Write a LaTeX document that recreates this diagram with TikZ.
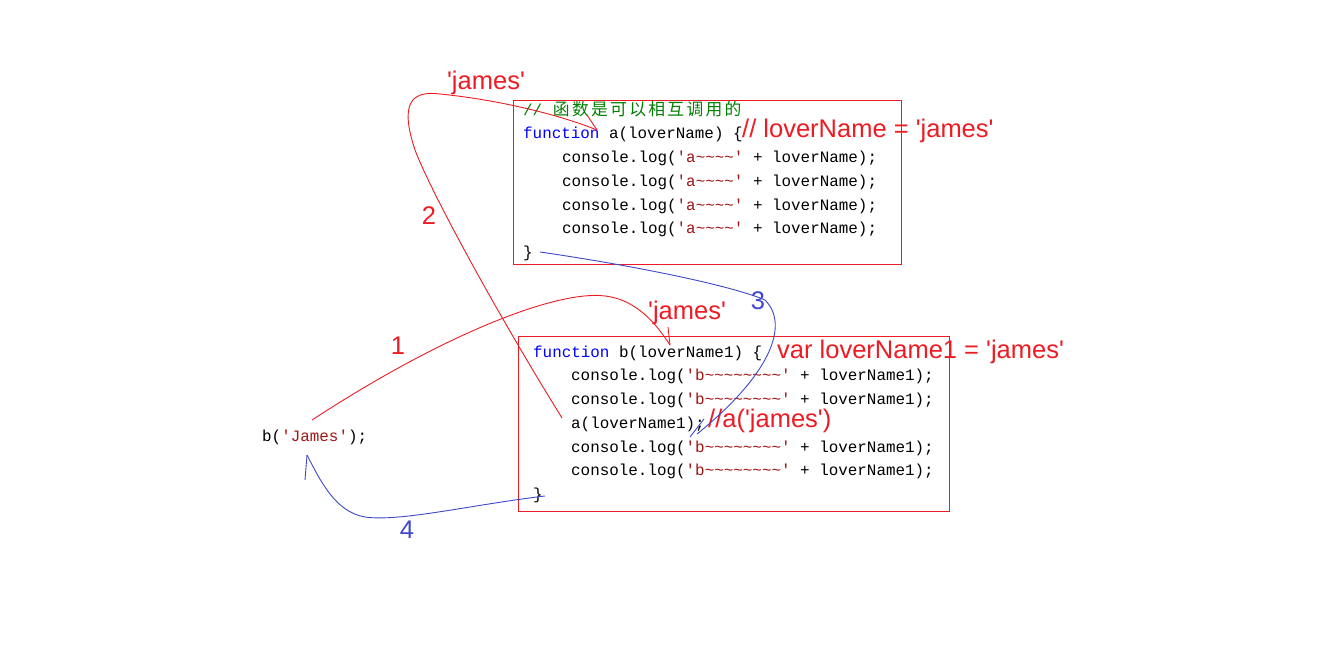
\documentclass[tikz,border=0pt]{standalone}
\usepackage{fontspec}
\setmonofont{Liberation Mono}
\newfontfamily\annfont{Liberation Sans}[Ligatures=TeXOff]
\newfontfamily\cjkfont{Noto Sans CJK SC}
\definecolor{kw}{HTML}{0000FF}
\definecolor{str}{HTML}{A31515}
\definecolor{cmt}{HTML}{008000}
\definecolor{penred}{HTML}{ED1C24}
\definecolor{penblue}{HTML}{3F48CC}
\newcommand\cjb[1]{\makebox[19.08pt]{\cjkfont\fontsize{16.8}{18}\selectfont #1}}
\newcommand\tl{\string~}
\tikzset{
  code/.style={anchor=west, inner sep=0pt, font=\ttfamily\fontsize{15.9}{19}\selectfont, text height=12pt, text depth=4pt},
  ann/.style={inner sep=0pt, text=penred, font=\annfont\fontsize{25.5}{30}\selectfont},
  annb/.style={ann, text=penblue},
  codebox/.style={draw=penred, line width=0.9pt, anchor=north west, inner sep=0pt},
  redpen/.style={draw=penred, line width=0.9pt},
  bluepen/.style={draw=penblue, line width=0.9pt},
}
\begin{document}
\begin{tikzpicture}[x=1pt,y=-1pt]
\useasboundingbox[fill=white] (0,0) rectangle (1340,668);

% boxes
\node[codebox, minimum width=388pt, minimum height=164pt] (boxA) at (513,100) {};
\node[codebox, minimum width=431pt, minimum height=175pt] (boxB) at (518,336) {};

% code of a
\node[code] (a0) at (523,112) {\color{cmt}// \cjb{函}\cjb{数}\cjb{是}\cjb{可}\cjb{以}\cjb{相}\cjb{互}\cjb{调}\cjb{用}\cjb{的}};
\node[code] (a1) at (523,135) {\textcolor{kw}{function} a(loverName) \{};
\node[code] (a2) at (562,159) {console.log(\textcolor{str}{'a\tl\tl\tl\tl'} + loverName);};
\node[code] (a3) at (562,183) {console.log(\textcolor{str}{'a\tl\tl\tl\tl'} + loverName);};
\node[code] (a4) at (562,207) {console.log(\textcolor{str}{'a\tl\tl\tl\tl'} + loverName);};
\node[code] (a5) at (562,230) {console.log(\textcolor{str}{'a\tl\tl\tl\tl'} + loverName);};
\node[code] (a6) at (523,254) {\}};

% code of b
\node[code] (b1) at (533,353) {\textcolor{kw}{function} b(loverName1) \{};
\node[code] (b2) at (571,376) {console.log(\textcolor{str}{'b\tl\tl\tl\tl\tl\tl\tl\tl'} + loverName1);};
\node[code] (b3) at (571,400) {console.log(\textcolor{str}{'b\tl\tl\tl\tl\tl\tl\tl\tl'} + loverName1);};
\node[code] (b4) at (571,424) {a(loverName1);};
\node[code] (b5) at (571,448) {console.log(\textcolor{str}{'b\tl\tl\tl\tl\tl\tl\tl\tl'} + loverName1);};
\node[code] (b6) at (571,471) {console.log(\textcolor{str}{'b\tl\tl\tl\tl\tl\tl\tl\tl'} + loverName1);};
\node[code] (b7) at (533,495) {\}};

% call
\node[code] (call) at (262,437) {b(\textcolor{str}{'James'});};

% annotations
\node[ann] (j1) at (486,83) {'james'};
\node[ann, anchor=west] (ln) at (742,131) {// loverName = 'james'};
\node[ann, anchor=west] (vl) at (777,352) {var loverName1 = 'james'};
\node[ann, anchor=west] (aj) at (708,421) {//a('james')};
\node[ann] (j2) at (687,313) {'james'};
\node[ann] (n1) at (398,346) {1};
\node[ann] (n2) at (429,216) {2};
\node[annb] (n3) at (758,301) {3};
\node[annb] (n4) at (407,530) {4};

% curve 1
\coordinate (c1s) at (312,420);
\coordinate (c1e) at (670,345);
\coordinate (c1t) at (668,327);
\draw[redpen] (c1s) .. controls (450,330) and (560,290) .. (605,296)
  .. controls (640,300) and (660,330) .. (c1e);
\draw[redpen] (c1t) -- (c1e);

% curve 2
\coordinate (c2s) at (562,418);
\coordinate (c2e) at (597,130);
\coordinate (c2t) at (587,115);
\draw[redpen] (c2s) .. controls (495,310) and (430,190) .. (415,150)
  .. controls (400,105) and (410,90) .. (440,94)
  .. controls (500,100) and (560,115) .. (c2e);
\draw[redpen] (c2t) -- (c2e);

% curve 3
\coordinate (c3s) at (540,252);
\coordinate (c3e) at (697,434);
\coordinate (c3a) at (690,437);
\coordinate (c3b) at (704,419);
\draw[bluepen] (c3s) .. controls (630,265) and (730,285) .. (765,300)
  .. controls (790,325) and (770,375) .. (c3e);
\draw[bluepen] (c3a) -- (c3b);

% curve 4
\coordinate (c4s) at (545,496);
\coordinate (c4e) at (307,455);
\coordinate (c4t) at (305,480);
\draw[bluepen] (c4s) .. controls (470,505) and (400,522) .. (365,517)
  .. controls (335,512) and (320,480) .. (c4e);
\draw[bluepen] (c4e) -- (c4t);
\end{tikzpicture}
\end{document}
